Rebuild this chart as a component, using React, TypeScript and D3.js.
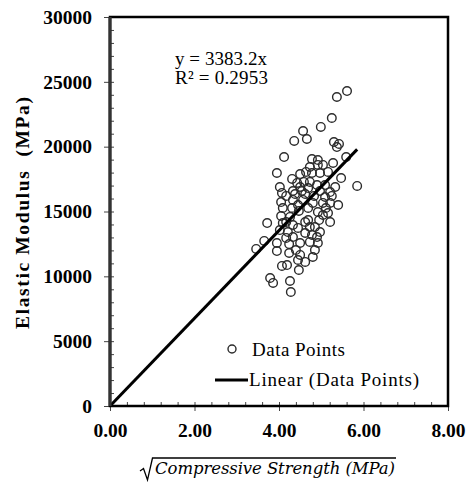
import React, { useEffect, useRef } from 'react';
import * as d3 from 'd3';

// sqrt(compressive strength) in sqrt(MPa), elastic modulus in MPa
const sqrtStrength = [
  5.61, 5.37, 5.25, 4.99, 4.57, 4.36, 4.66, 5.3, 5.42, 5.37,
  4.12, 5.59, 4.78, 4.92, 3.95, 4.73, 4.92, 5.04, 5.28, 4.5,
  4.64, 4.78, 4.97, 5.16, 4.31, 5.47, 4.43, 4.59, 4.73, 4.9,
  5.09, 5.33, 5.85, 4.02, 4.33, 4.54, 4.97, 5.21, 4.07, 4.38,
  4.62, 5.09, 5.25, 4.33, 4.57, 4.05, 5.04, 5.21, 5.4, 4.8,
  4.31, 4.09, 4.47, 4.92, 5.04, 5.16, 4.05, 4.26, 5.21, 4.69,
  3.72, 4.09, 4.33, 4.62, 4.73, 4.85, 4.45, 4.21, 4.97, 4.62,
  4.78, 4.9, 4.33, 3.65, 4.73, 4.92, 3.95, 4.24, 3.46, 3.95,
  4.24, 4.5, 4.8, 4.45, 4.62, 4.19, 4.07, 4.47, 3.79, 3.86,
  4.26, 4.28, 4.5, 4.69, 4.83, 4.17, 4.45, 4.69, 4.17, 4.5,
  4.4, 4.95, 5.11, 4.17, 4.85, 4.02
];
const elasticModulus = [
  24290, 23830, 22210, 21520, 21210, 20440, 20590, 20360, 20210, 19970,
  19200, 19200, 19050, 18970, 17970, 18430, 18590, 18590, 18740, 17890,
  18050, 17970, 17970, 18050, 17510, 17580, 17200, 17280, 17280, 17040,
  17040, 16890, 16970, 16890, 16580, 16580, 16580, 16500, 16430, 16350,
  16350, 16120, 16200, 15890, 15890, 15730, 15660, 15660, 15500, 15660,
  15270, 15270, 15040, 14960, 14730, 14880, 14650, 14580, 14190, 14340,
  14110, 14110, 13960, 14190, 13800, 13800, 13730, 13420, 13420, 13340,
  13190, 13030, 13030, 12730, 12650, 12570, 12570, 12490, 12110, 11950,
  11800, 11650, 11490, 11260, 11110, 10870, 10800, 10490, 9870, 9490,
  9640, 8790, 16890, 16810, 16200, 16200, 15500, 15270, 14190, 12570,
  12030, 14340, 15270, 12960, 12030, 13570
];

const slope = 3383.2;
const rSquared = 0.2953;
const xTicks = [0, 2, 4, 6, 8];
const yTicks = [0, 5000, 10000, 15000, 20000, 25000, 30000];

const W = 471;
const H = 484;
const margin = { left: 110, top: 17, right: 23, bottom: 78 };

export default function App() {
  const svgRef = useRef<SVGSVGElement>(null);

  useEffect(() => {
    const svg = d3.select(svgRef.current);
    const plot = svg.select('.plot');
    const innerW = W - margin.left - margin.right;
    const innerH = H - margin.top - margin.bottom;

    const xScale = d3.scaleLinear().domain([0, 8]).range([0, innerW]);
    const yScale = d3.scaleLinear().domain([0, 30000]).range([innerH, 0]);

    const points = sqrtStrength.map((x, i) => ({ x, y: elasticModulus[i] }));

    /* markers */
    plot
      .select('.points')
      .selectAll('circle')
      .data(points)
      .join('circle')
      .attr('cx', d => xScale(d.x))
      .attr('cy', d => yScale(d.y))
      .attr('r', 4.3)
      .attr('fill', 'none')
      .attr('stroke', '#2b2b2b')
      .attr('stroke-width', 1.4);

    /* trendline through origin */
    const xMax = d3.max(sqrtStrength) as number;
    plot
      .select('.trend')
      .attr('x1', xScale(0))
      .attr('y1', yScale(0))
      .attr('x2', xScale(xMax))
      .attr('y2', yScale(slope * xMax));

    /* axes */
    const yAxis = d3
      .axisLeft(yScale)
      .tickValues(yTicks)
      .tickSize(6)
      .tickPadding(12)
      .tickFormat(d3.format('d'));
    const yMinor = d3
      .axisRight(yScale)
      .tickValues(d3.range(0, 30001, 1000))
      .tickSize(4)
      .tickFormat(() => '');
    const xAxis = d3
      .axisBottom(xScale)
      .tickValues(xTicks)
      .tickSize(5)
      .tickPadding(12)
      .tickFormat(d3.format('.2f'));
    const xMinor = d3
      .axisTop(xScale)
      .tickValues(d3.range(0, 21).map(i => i * 0.4))
      .tickSize(4)
      .tickFormat(() => '');

    plot.select<SVGGElement>('.y-axis').call(yAxis);
    plot.select<SVGGElement>('.y-minor').call(yMinor);
    plot
      .select<SVGGElement>('.x-axis')
      .attr('transform', `translate(0,${innerH})`)
      .call(xAxis);
    plot
      .select<SVGGElement>('.x-minor')
      .attr('transform', `translate(0,${innerH})`)
      .call(xMinor);

    plot.selectAll('.domain').remove();
    plot.selectAll('.tick line').attr('stroke', '#444').attr('stroke-width', 1);
    plot
      .selectAll('.tick text')
      .attr('fill', '#000')
      .style('font-family', '"Liberation Serif", "Times New Roman", serif')
      .style('font-weight', 'bold')
      .style('font-size', '19.5px');

    plot
      .select('.frame')
      .attr('width', innerW)
      .attr('height', innerH);
  }, []);

  const innerH = H - margin.top - margin.bottom;

  return (
    <div style={{ position: 'absolute', left: 0, top: 0 }}>
      <svg ref={svgRef} width={W} height={H} style={{ display: 'block', background: '#fff' }}>
        <g className="plot" transform={`translate(${margin.left},${margin.top})`}>
          <g className="y-axis" />
          <g className="y-minor" />
          <g className="x-axis" />
          <g className="x-minor" />
          <g className="points" />
          <line className="trend" stroke="#000" strokeWidth={3} />
          <rect className="frame" fill="none" stroke="#000" strokeWidth={2.5} />
          <line x1={0} y1={0} x2={0} y2={innerH} stroke="#333" strokeWidth={3.2} />
        </g>

        <g fontFamily='"Liberation Serif", "Times New Roman", serif' fill="#000">
          <text x={175} y={65} fontSize={19} textLength={92}>
            {`y = ${slope}x`}
          </text>
          <text x={175} y={84} fontSize={19} textLength={93}>
            {'R² = '}{rSquared}
          </text>

          <circle cx={232} cy={349} r={4} fill="none" stroke="#2b2b2b" strokeWidth={1.4} />
          <text x={252} y={356} fontSize={19} textLength={93}>Data Points</text>
          <line x1={215} y1={380} x2={248} y2={380} stroke="#000" strokeWidth={3} />
          <text x={249} y={386} fontSize={19} textLength={170}>Linear (Data Points)</text>

          <text
            transform="translate(29,213) rotate(-90)"
            textAnchor="middle"
            fontSize={19.5}
            fontWeight="bold"
            textLength={232}
            style={{ whiteSpace: 'pre' }}
          >
            {'Elastic Modulus  (MPa)'}
          </text>
        </g>

        <path
          d="M140,471 L143.5,468.5 L147.5,480 L152.5,458 L396,458"
          fill="none"
          stroke="#000"
          strokeWidth={1.3}
        />
        <text
          x={155}
          y={474}
          fontFamily='"DejaVu Serif", serif'
          fontStyle="italic"
          fontSize={16.5}
          textLength={240}
          fill="#000"
        >
          Compressive Strength (MPa)
        </text>
      </svg>
    </div>
  );
}
